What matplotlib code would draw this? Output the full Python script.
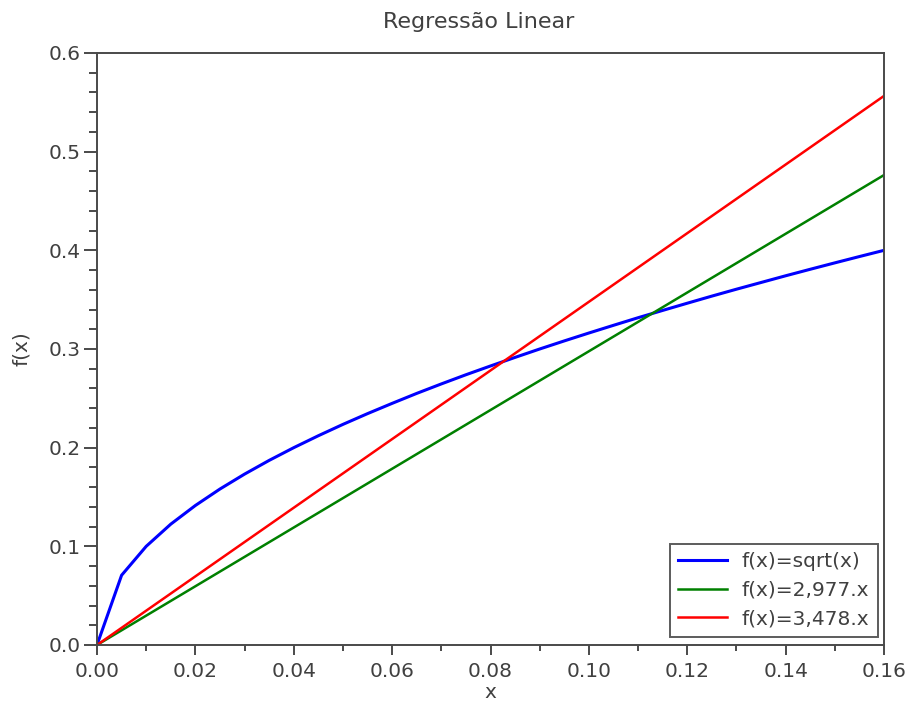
import matplotlib
matplotlib.use('Agg')
import matplotlib.pyplot as plt
from matplotlib.ticker import MultipleLocator

plt.rcParams['font.family'] = ['DejaVu Sans']

# Pontos amostrados da raiz quadrada (passo 0.005)
x_sqrt = [0.0, 0.005, 0.01, 0.015, 0.02, 0.025, 0.03, 0.035, 0.04, 0.045,
          0.05, 0.055, 0.06, 0.065, 0.07, 0.075, 0.08, 0.085, 0.09, 0.095,
          0.10, 0.105, 0.11, 0.115, 0.12, 0.125, 0.13, 0.135, 0.14, 0.145,
          0.15, 0.155, 0.16]
y_sqrt = [0.0, 0.0707, 0.1, 0.1225, 0.1414, 0.1581, 0.1732, 0.1871, 0.2, 0.2121,
          0.2236, 0.2345, 0.2449, 0.2550, 0.2646, 0.2739, 0.2828, 0.2915, 0.3, 0.3082,
          0.3162, 0.3240, 0.3317, 0.3391, 0.3464, 0.3536, 0.3606, 0.3674, 0.3742, 0.3808,
          0.3873, 0.3937, 0.4]

# Retas ajustadas
x_line = [0.0, 0.16]
y_green = [0.0, 0.4763]
y_red = [0.0, 0.5565]

labels = ['f(x)=sqrt(x)', 'f(x)=2,977.x', 'f(x)=3,478.x']

text_color = '#404040'
axis_color = '#4a4a4a'
fs = 14.5

fig = plt.figure(figsize=(9.09, 7.02), dpi=100)
ax = fig.add_axes([97 / 909, 1 - 645 / 702, 787 / 909, 592 / 702])

ax.plot(x_sqrt, y_sqrt, color='#0000ff', linewidth=2.2, label=labels[0])
ax.plot(x_line, y_green, color='#008000', linewidth=1.8, label=labels[1])
ax.plot(x_line, y_red, color='#ff0000', linewidth=1.8, label=labels[2])

ax.xaxis.set_major_locator(MultipleLocator(0.02))
ax.xaxis.set_minor_locator(MultipleLocator(0.01))
ax.yaxis.set_major_locator(MultipleLocator(0.1))
ax.yaxis.set_minor_locator(MultipleLocator(0.02))
ax.set_xlim(0, 0.16)
ax.set_ylim(0, 0.6)
ax.xaxis.set_major_formatter(lambda v, p: f'{v:.2f}')
ax.yaxis.set_major_formatter(lambda v, p: f'{v:.1f}')

for s in ax.spines.values():
    s.set_color(axis_color)
    s.set_linewidth(1.4)

ax.tick_params(which='both', direction='out', width=1.4, color=axis_color,
               labelsize=fs, labelcolor=text_color)
ax.tick_params(axis='x', which='major', length=7.2, pad=5)
ax.tick_params(axis='x', which='minor', length=4.3)
ax.tick_params(axis='y', which='major', length=9.4, pad=2.5)
ax.tick_params(axis='y', which='minor', length=5.8)

fig.text(479 / 909, 1 - 22 / 702, 'Regressão Linear', fontsize=16, color=text_color,
         ha='center', va='center')
ax.set_xlabel('x', fontsize=fs, color=text_color)
ax.xaxis.set_label_coords(0.5, (645 - 693) / 592)
ax.xaxis.label.set_va('center')
ax.set_ylabel('f(x)', fontsize=fs, color=text_color)
ax.yaxis.set_label_coords((22 - 97) / 787, 0.5)
ax.yaxis.label.set_va('center')

leg = ax.legend(loc='lower right', bbox_to_anchor=(878 / 909, 1 - 637 / 702),
                bbox_transform=fig.transFigure, borderaxespad=0,
                fontsize=fs, frameon=True, fancybox=False,
                edgecolor='#333333', handlelength=2.4, borderpad=0.42,
                labelspacing=0.48, handletextpad=0.75)
leg.get_frame().set_linewidth(1.4)
for t in leg.get_texts():
    t.set_color(text_color)

fig.savefig('out.png', dpi=100)
